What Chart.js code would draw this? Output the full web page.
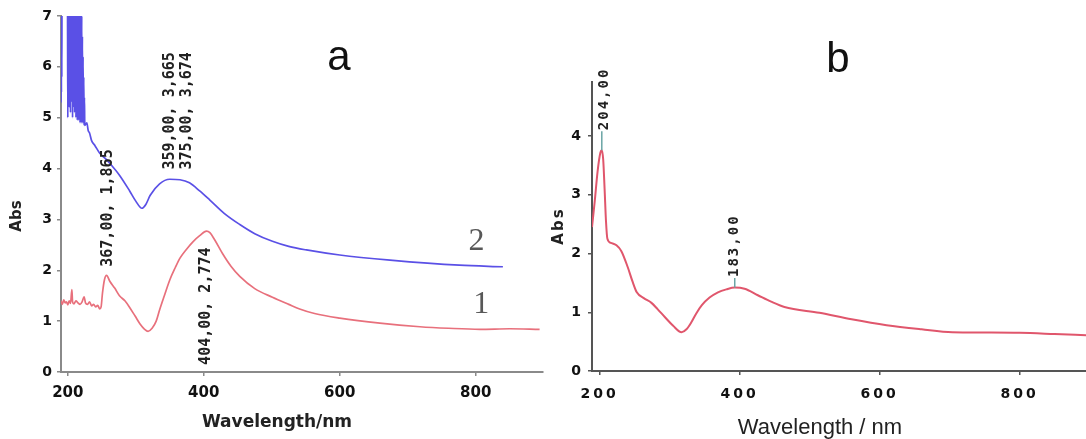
<!DOCTYPE html>
<html>
<head>
<meta charset="utf-8">
<script src="https://cdn.jsdelivr.net/npm/chart.js@4/dist/chart.umd.min.js"></script>
<style>
  html, body { margin: 0; padding: 0; background: #fff; }
  #wrap { position: relative; width: 1086px; height: 439px; overflow: hidden; }
  canvas { position: absolute; top: 0; }
  #chartA { left: 0; }
  #chartB { left: 540px; }
</style>
</head>
<body>
<div id="wrap">
  <canvas id="chartA" width="548" height="439"></canvas>
  <canvas id="chartB" width="546" height="439"></canvas>
</div>
<script>
// ---- panel a, curve 1 (red) ----
const wlA1 = [190,192,194,196,198,200,202,204,206,207,209,212,215,218,221,224,226,229,232,235,238,241,244,247,249,251,254,257,262,269,276,284,291,299,306,313,318,324,330,335,342,350,358,365,375,384,394,404,409,416,428,440,453,475,501,525,541,563,600,659,718,760,806,850,894];
const absA1 = [1.40,1.33,1.42,1.36,1.38,1.32,1.40,1.35,1.62,1.38,1.34,1.40,1.36,1.33,1.38,1.48,1.36,1.33,1.38,1.30,1.33,1.28,1.31,1.24,1.28,1.55,1.82,1.90,1.78,1.65,1.50,1.40,1.27,1.10,0.95,0.84,0.80,0.86,1.00,1.22,1.50,1.81,2.05,2.24,2.42,2.56,2.68,2.77,2.74,2.60,2.32,2.08,1.88,1.64,1.47,1.33,1.24,1.15,1.06,0.96,0.89,0.86,0.84,0.85,0.84];

// ---- panel a, curve 2 (blue), noisy and off scale below ~225 nm ----
const wlA2 = [190,190.3,190.6,190.9,191.2,191.5,192,199,199.5,
  200,200.5,201,201.5,202,202.5,203,203.5,204,204.5,205,205.5,206,206.5,207,207.5,208,208.5,209,209.5,
  210,210.5,211,211.5,212,212.5,213,213.5,214,214.5,215,215.5,216,216.5,217,217.5,218,218.5,219,219.5,
  220,220.5,221,221.5,222,222.5,223,223.5,224,224.5,225,
  228,230,232,235,240,247,255,262,276,291,300,309,315,321,335,350,365,379,394,409,430,453,475,501,525,551,600,674,776,840];
const absA2 = [5.3,7.6,5.5,7.6,5.8,7.6,7.6,7.6,7.6,
  5.0,7.6,5.4,7.6,5.2,7.6,5.6,7.6,5.1,7.6,5.3,7.6,5.5,7.6,5.0,7.6,5.2,7.6,5.4,7.6,
  5.1,7.6,5.3,7.6,5.0,7.6,5.2,7.6,4.95,7.6,5.1,7.6,4.95,7.6,5.2,7.6,4.9,7.6,5.0,7.4,
  4.9,7.0,5.0,6.6,4.9,6.2,4.9,5.8,4.85,5.4,4.85,
  4.9,4.75,4.7,4.55,4.45,4.3,4.2,4.1,3.87,3.56,3.36,3.22,3.3,3.47,3.7,3.79,3.78,3.72,3.56,3.38,3.12,2.90,2.72,2.57,2.47,2.40,2.30,2.20,2.10,2.07];

// ---- panel b ----
const wlB = [189,193,197,201,203,205,207,209,211,216,224,231,240,247,253,263,274,283,293,305,317,324,331,338,346,357,369,381,393,407,426,445,464,514,560,610,660,704,750,800,850,895];
const absB = [2.45,2.9,3.4,3.72,3.76,3.6,3.1,2.55,2.25,2.18,2.14,2.04,1.77,1.52,1.34,1.24,1.16,1.05,0.92,0.77,0.66,0.71,0.83,0.98,1.12,1.25,1.34,1.39,1.42,1.40,1.29,1.18,1.09,0.99,0.88,0.78,0.71,0.66,0.655,0.65,0.63,0.61];

// tick labels
const xTicks = [200, 400, 600, 800];
const yTicksA = [0, 1, 2, 3, 4, 5, 6, 7];
const yTicksB = [0, 1, 2, 3, 4];

// peak labels: text and where the label starts (wavelength, Abs)
const peaksA = [
  { text: '367,00, 1,865', x: 259, y: 2.07 },
  { text: '359,00, 3,665', x: 350, y: 3.98 },
  { text: '375,00, 3,674', x: 376, y: 3.98 },
  { text: '404,00, 2,774', x: 404, y: 0.14 }
];
const peaksB = [
  { text: '204,00', x: 206, y: 4.1, px: 203, py: 3.76 },
  { text: '183,00', x: 393, y: 1.6, px: 393, py: 1.42 }
];
// curve numbers in panel a
const curveNames = [
  { text: '2', x: 801, y: 2.56 },
  { text: '1', x: 808, y: 1.32 }
];

function toPoints(xs, ys) {
  return xs.map((x, i) => ({ x: x, y: ys[i] }));
}

function textLayer(cfg) {
  return {
    id: 'textLayer',
    beforeDraw(chart) {
      chart.ctx.letterSpacing = cfg.tickSpacing || '0px';
    },
    afterDraw(chart) {
      const ctx = chart.ctx;
      const xs = chart.scales.x, ys = chart.scales.y;
      ctx.save();
      ctx.fillStyle = '#111';
      ctx.letterSpacing = '0px';

      // panel letter
      ctx.font = '42px "Liberation Sans", Arial, sans-serif';
      ctx.textAlign = 'center';
      ctx.textBaseline = 'alphabetic';
      ctx.fillText(cfg.letter, cfg.letterPos[0], cfg.letterPos[1]);

      // x axis title
      ctx.font = cfg.xTitleFont;
      ctx.textBaseline = 'middle';
      ctx.fillStyle = '#222';
      ctx.fillText(cfg.xTitle, cfg.xTitlePos[0], cfg.xTitlePos[1]);

      // y axis title
      ctx.save();
      ctx.translate(cfg.yTitlePos[0], cfg.yTitlePos[1]);
      ctx.rotate(-Math.PI / 2);
      ctx.font = cfg.yTitleFont;
      ctx.letterSpacing = cfg.peakSpacing;
      ctx.fillText('Abs', 0, 0);
      ctx.restore();

      // peak tick marks
      ctx.strokeStyle = '#6aa5a5';
      ctx.lineWidth = 1.5;
      cfg.peaks.forEach(p => {
        if (p.px === undefined) return;
        const px = xs.getPixelForValue(p.px);
        const py = ys.getPixelForValue(p.py);
        ctx.beginPath();
        ctx.moveTo(px, py);
        ctx.lineTo(px, ys.getPixelForValue(p.y) + 1);
        ctx.stroke();
      });

      // peak labels, rotated
      ctx.fillStyle = '#222';
      cfg.peaks.forEach(p => {
        ctx.save();
        ctx.translate(xs.getPixelForValue(p.x), ys.getPixelForValue(p.y));
        ctx.rotate(-Math.PI / 2);
        ctx.font = cfg.peakFont;
        ctx.letterSpacing = cfg.peakSpacing;
        ctx.textAlign = 'left';
        ctx.textBaseline = 'middle';
        ctx.fillText(p.text, 0, 0);
        ctx.restore();
      });

      // curve numbers
      if (cfg.names) {
        ctx.fillStyle = '#585858';
        ctx.font = '32px "Liberation Serif", "DejaVu Serif", serif';
        ctx.textAlign = 'center';
        ctx.textBaseline = 'middle';
        cfg.names.forEach(n => {
          ctx.fillText(n.text, xs.getPixelForValue(n.x), ys.getPixelForValue(n.y));
        });
      }
      ctx.restore();
    }
  };
}

function makeOptions(cfg) {
  return {
    responsive: false,
    animation: false,
    events: [],
    layout: { padding: { top: cfg.top, right: cfg.right, left: 0, bottom: 0 } },
    plugins: { legend: { display: false }, tooltip: { enabled: false } },
    elements: { point: { radius: 0 } },
    scales: {
      x: {
        type: 'linear',
        min: cfg.xMin,
        max: cfg.xMax,
        afterBuildTicks: scale => { scale.ticks = xTicks.map(v => ({ value: v })); },
        afterFit: scale => { scale.height = cfg.xHeight; },
        grid: { drawOnChartArea: false, tickLength: 4, color: cfg.axisColor, lineWidth: 1.5 },
        border: { color: cfg.axisColor, width: 2 },
        ticks: { color: '#111', font: cfg.xTickFont, padding: cfg.xTickPad, maxRotation: 0 }
      },
      y: {
        type: 'linear',
        min: 0,
        max: cfg.yMax,
        afterBuildTicks: scale => { scale.ticks = cfg.yTicks.map(v => ({ value: v })); },
        afterFit: scale => { scale.width = cfg.yWidth; },
        grid: { drawOnChartArea: false, tickLength: 4, color: cfg.axisColor, lineWidth: 1.5 },
        border: { color: cfg.axisColor, width: 2 },
        ticks: { color: '#111', font: cfg.yTickFont, padding: cfg.yTickPad }
      }
    }
  };
}

// Panel a
new Chart(document.getElementById('chartA'), {
  type: 'line',
  data: {
    datasets: [
      {
        label: '2',
        data: toPoints(wlA2, absA2),
        borderColor: '#5a50e6',
        borderWidth: 1.7,
        cubicInterpolationMode: 'monotone'
      },
      {
        label: '1',
        data: toPoints(wlA1, absA1),
        borderColor: '#e8707c',
        borderWidth: 1.7,
        cubicInterpolationMode: 'monotone'
      }
    ]
  },
  options: makeOptions({
    top: 16, right: 5, xMin: 190, xMax: 899, yMax: 7, yTicks: yTicksA,
    xHeight: 67, yWidth: 61, axisColor: '#8a8a8a',
    xTickFont: { family: '"DejaVu Sans"', size: 15, weight: 'bold' }, xTickPad: 8,
    yTickFont: { family: '"DejaVu Sans"', size: 14, weight: 'bold' }, yTickPad: 5
  }),
  plugins: [textLayer({
    letter: 'a', letterPos: [339, 70],
    xTitle: 'Wavelength/nm', xTitlePos: [277, 423], xTitleFont: 'bold 17px "DejaVu Sans"',
    yTitlePos: [17, 216], yTitleFont: 'bold 15px "DejaVu Sans"',
    peaks: peaksA, peakFont: 'bold 15px "DejaVu Sans Mono"', peakSpacing: '0px',
    names: curveNames
  })]
});

// Panel b
new Chart(document.getElementById('chartB'), {
  type: 'line',
  data: {
    datasets: [{
      label: 'b',
      data: toPoints(wlB, absB),
      borderColor: '#e0566c',
      borderWidth: 2,
      cubicInterpolationMode: 'monotone'
    }]
  },
  options: makeOptions({
    top: 82, right: 0, xMin: 189, xMax: 895, yMax: 4.92, yTicks: yTicksB,
    xHeight: 68, yWidth: 52, axisColor: '#555',
    xTickFont: { family: '"DejaVu Sans"', size: 14, weight: 'bold' }, xTickPad: 11,
    yTickFont: { family: '"DejaVu Sans"', size: 14, weight: 'bold' }, yTickPad: 4
  }),
  plugins: [textLayer({
    tickSpacing: '3px',
    letter: 'b', letterPos: [298, 72],
    xTitle: 'Wavelength / nm', xTitlePos: [280, 428], xTitleFont: '22px "Liberation Sans", Arial, sans-serif',
    yTitlePos: [19, 226], yTitleFont: 'bold 15px "DejaVu Sans"',
    peaks: peaksB, peakFont: 'bold 14px "DejaVu Sans Mono"', peakSpacing: '2px'
  })]
});
</script>
</body>
</html>
